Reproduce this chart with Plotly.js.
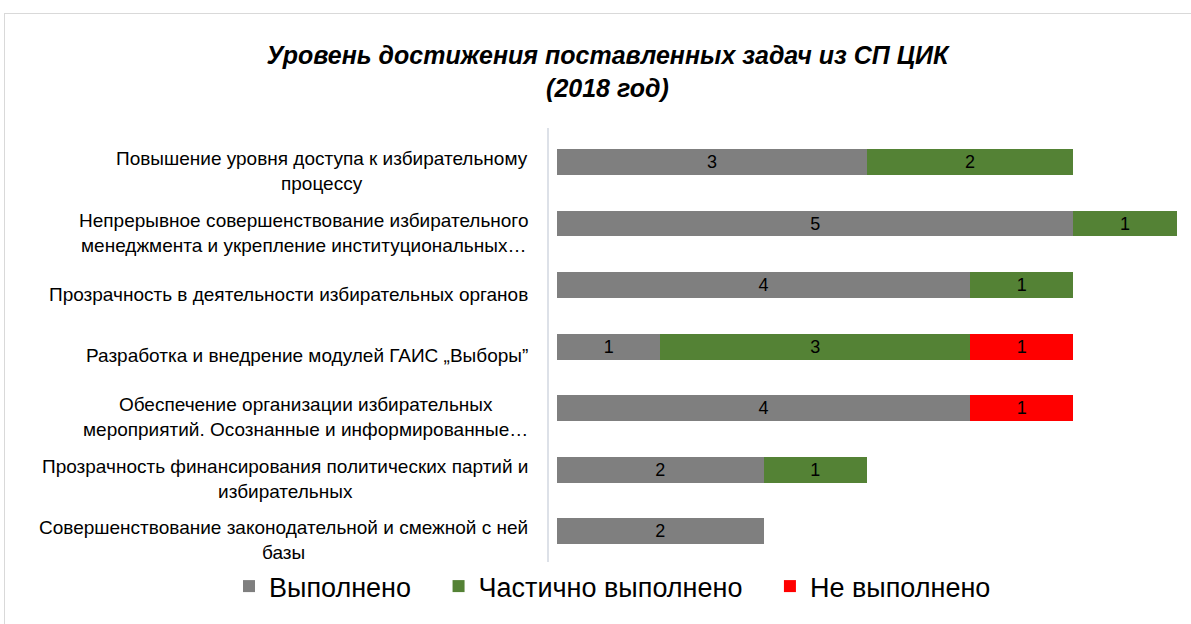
<!DOCTYPE html>
<html>
<head>
<meta charset="utf-8">
<script src="https://cdn.plot.ly/plotly-3.0.1.min.js"></script>
<style>
  body { margin: 0; background: #fff; }
  #frame { position: absolute; left: 4px; top: 13px; width: 1200px; height: 700px; border: 1px solid #d9d9d9; }
  #chart { position: absolute; left: 0; top: 0; width: 1191px; height: 624px; }
</style>
</head>
<body>
<div id="frame"></div>
<div id="chart"></div>
<script>
// задачи (сверху вниз)
var tasks = [
  "Повышение уровня доступа к избирательному<br>процессу",
  "Непрерывное совершенствование избирательного<br>менеджмента и укрепление институциональных…",
  "Прозрачность в деятельности избирательных органов",
  "Разработка и внедрение модулей ГАИС „Выборы”",
  "Обеспечение организации избирательных<br>мероприятий. Осознанные и информированные…",
  "Прозрачность финансирования политических партий и<br>избирательных",
  "Совершенствование законодательной и смежной с ней<br>базы"
];
var seriesNames = ["Выполнено", "Частично выполнено", "Не выполнено"];
var done = [3, 5, 4, 1, 4, 2, 2];
var partly = [2, 1, 1, 3, null, 1, null];
var notDone = [null, null, null, 1, 1, null, null];

var ids = tasks.map(function (t, i) { return "t" + i; });
var font = "Liberation Sans, Arial, sans-serif";
var pad = "\u00a0\u00a0\u00a0";

function series(name, vals, color) {
  return {
    type: "bar",
    orientation: "h",
    name: name,
    y: ids,
    x: vals,
    text: vals.map(function (v) { return v == null ? "" : String(v); }),
    textposition: "inside",
    insidetextanchor: "middle",
    textangle: 0,
    constraintext: "none",
    textfont: { family: font, size: 18, color: "#000" },
    marker: { color: color },
    hoverinfo: "x"
  };
}

var data = [
  series(seriesNames[0] + pad, done, "#7f7f7f"),
  series(seriesNames[1] + pad, partly, "#548235"),
  series(seriesNames[2], notDone, "#ff0000")
];

var labels = tasks.map(function (t, i) {
  return {
    xref: "x", yref: "y",
    x: 0, y: ids[i],
    xanchor: "right", yanchor: "middle",
    xshift: -27, yshift: -9,
    align: "center",
    showarrow: false,
    text: t,
    font: { family: font, size: 19, color: "#000" }
  };
});

var layout = {
  width: 1191,
  height: 624,
  paper_bgcolor: "rgba(0,0,0,0)",
  plot_bgcolor: "rgba(0,0,0,0)",
  margin: { l: 549, r: 4, t: 128, b: 62, autoexpand: false },
  barmode: "stack",
  bargap: 0.58,
  showlegend: true,
  title: {
    text: "<b><i>Уровень достижения поставленных задач из СП ЦИК<br>(2018 год)</i></b>",
    font: { family: font, size: 25, color: "#000" },
    x: 0.51, xanchor: "center",
    y: 0.897, yanchor: "top"
  },
  xaxis: {
    range: [-0.0775, 6.1],
    showgrid: false,
    zeroline: false,
    showticklabels: false,
    showline: false
  },
  yaxis: {
    autorange: "reversed",
    showticklabels: false,
    showgrid: false,
    showline: true,
    linecolor: "#dde1e8",
    linewidth: 2,
    ticks: ""
  },
  legend: {
    orientation: "h",
    x: -0.5016, xanchor: "left",
    y: -0.0001, yanchor: "top",
    font: { family: font, size: 27, color: "#000" },
    itemwidth: 30,
    traceorder: "normal"
  },
  annotations: labels
};

Plotly.newPlot("chart", data, layout, { displayModeBar: false });
</script>
</body>
</html>
